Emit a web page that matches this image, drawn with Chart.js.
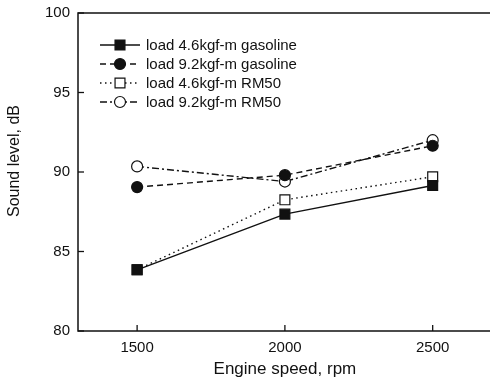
<!DOCTYPE html>
<html>
<head>
<meta charset="utf-8">
<script src="https://cdn.jsdelivr.net/npm/chart.js@4/dist/chart.umd.min.js"></script>
<style>
html, body { margin: 0; padding: 0; background: #fff; overflow: hidden; }
#wrap { width: 500px; height: 384px; }
</style>
</head>
<body>
<div id="wrap"><canvas id="chart" width="500" height="384"></canvas></div>
<script>
// Data
const speeds = [1500, 2000, 2500];
const yTickValues = [80, 85, 90, 95, 100];
const seriesNames = [
    'load 4.6kgf-m gasoline',
    'load 9.2kgf-m gasoline',
    'load 4.6kgf-m RM50',
    'load 9.2kgf-m RM50'
];
const gasoline46 = [83.85, 87.35, 89.15];
const gasoline92 = [89.05, 89.8, 91.65];
const rm50_46 = [83.85, 88.25, 89.7];
const rm50_92 = [90.35, 89.4, 92.0];
const yTitle = 'Sound level, dB';
const xTitle = 'Engine speed, rpm';

const FONT = 'Liberation Sans, Arial, sans-serif';
const INK = '#111';

function toPoints(values) {
    return speeds.map((s, i) => ({ x: s, y: values[i] }));
}

function series(label, values, dash, style, radius, fill) {
    return {
        label: label,
        data: toPoints(values),
        borderColor: INK,
        borderWidth: 1.4,
        borderDash: dash,
        backgroundColor: fill,
        pointStyle: style,
        pointRadius: radius,
        pointBackgroundColor: fill,
        pointBorderColor: INK,
        pointBorderWidth: 1.2,
        fill: false,
        tension: 0
    };
}

// Frame (the right side is cut off in the original), inward ticks,
// y title and the in-plot legend
const framePlugin = {
    id: 'frame',
    afterDraw(chart) {
        const ctx = chart.ctx;
        const a = chart.chartArea;
        const xs = chart.scales.x;
        const ys = chart.scales.y;
        ctx.save();
        ctx.strokeStyle = INK;
        ctx.lineWidth = 1.5;
        ctx.setLineDash([]);
        ctx.beginPath();
        ctx.moveTo(chart.width, a.top);
        ctx.lineTo(a.left, a.top);
        ctx.lineTo(a.left, a.bottom);
        ctx.lineTo(chart.width, a.bottom);
        ctx.stroke();

        ctx.lineWidth = 1.3;
        speeds.forEach(v => {
            const px = xs.getPixelForValue(v);
            ctx.beginPath();
            ctx.moveTo(px, a.bottom);
            ctx.lineTo(px, a.bottom - 6);
            ctx.stroke();
        });
        yTickValues.forEach(v => {
            const py = ys.getPixelForValue(v);
            ctx.beginPath();
            ctx.moveTo(a.left, py);
            ctx.lineTo(a.left + 6, py);
            ctx.stroke();
        });

        // y axis title, sits a bit above the plot centre in the original
        ctx.save();
        ctx.translate(15, (a.top + a.bottom) / 2 - 11);
        ctx.rotate(-Math.PI / 2);
        ctx.fillStyle = INK;
        ctx.font = '16px ' + FONT;
        ctx.textAlign = 'center';
        ctx.textBaseline = 'middle';
        ctx.fillText(yTitle, 0, 0);
        ctx.restore();

        // legend
        chart.data.datasets.forEach((ds, i) => {
            const y = a.top + 32 + i * 19;
            const x0 = a.left + 22;
            ctx.strokeStyle = INK;
            ctx.lineWidth = ds.borderWidth;
            ctx.setLineDash(ds.borderDash);
            ctx.beginPath();
            ctx.moveTo(x0, y);
            ctx.lineTo(x0 + 40, y);
            ctx.stroke();
            ctx.setLineDash([]);
            ctx.fillStyle = ds.pointBackgroundColor;
            ctx.lineWidth = ds.pointBorderWidth;
            Chart.helpers.drawPoint(ctx, {
                pointStyle: ds.pointStyle,
                radius: ds.pointRadius,
                rotation: 0,
                borderWidth: ds.pointBorderWidth
            }, x0 + 20, y);
            ctx.fillStyle = INK;
            ctx.font = '15px ' + FONT;
            ctx.textBaseline = 'middle';
            ctx.textAlign = 'left';
            ctx.fillText(ds.label, x0 + 46, y + 1);
        });
        ctx.restore();
    }
};

new Chart(document.getElementById('chart'), {
    type: 'line',
    data: {
        datasets: [
            series(seriesNames[0], gasoline46, [], 'rect', 7, INK),
            series(seriesNames[1], gasoline92, [6, 4], 'circle', 5.5, INK),
            series(seriesNames[2], rm50_46, [1.5, 3.5], 'rect', 7, '#fff'),
            series(seriesNames[3], rm50_92, [7, 3, 2, 3], 'circle', 5.5, '#fff')
        ]
    },
    options: {
        responsive: false,
        animation: false,
        devicePixelRatio: 1,
        layout: { padding: { top: 13, right: 7, left: 0, bottom: 0 } },
        plugins: {
            legend: { display: false },
            tooltip: { enabled: false }
        },
        scales: {
            x: {
                type: 'linear',
                min: 1300,
                max: 2700,
                afterBuildTicks: scale => {
                    scale.ticks = speeds.map(v => ({ value: v }));
                },
                afterFit: scale => {
                    scale.height = 53;
                    scale.paddingLeft = 0;
                    scale.paddingRight = 0;
                },
                grid: { display: false, drawTicks: false },
                border: { display: false },
                ticks: {
                    padding: 8,
                    color: INK,
                    font: { family: FONT, size: 15 },
                    callback: v => String(v)
                },
                title: {
                    display: true,
                    text: xTitle,
                    color: INK,
                    font: { family: FONT, size: 17 },
                    padding: { top: 4 }
                }
            },
            y: {
                min: 80,
                max: 100,
                afterBuildTicks: scale => {
                    scale.ticks = yTickValues.map(v => ({ value: v }));
                },
                afterFit: scale => {
                    scale.width = 78;
                    scale.paddingTop = 0;
                    scale.paddingBottom = 0;
                },
                grid: { display: false, drawTicks: false },
                border: { display: false },
                ticks: {
                    padding: 8,
                    color: INK,
                    font: { family: FONT, size: 15 }
                },
                title: { display: false }
            }
        }
    },
    plugins: [framePlugin]
});
</script>
</body>
</html>
